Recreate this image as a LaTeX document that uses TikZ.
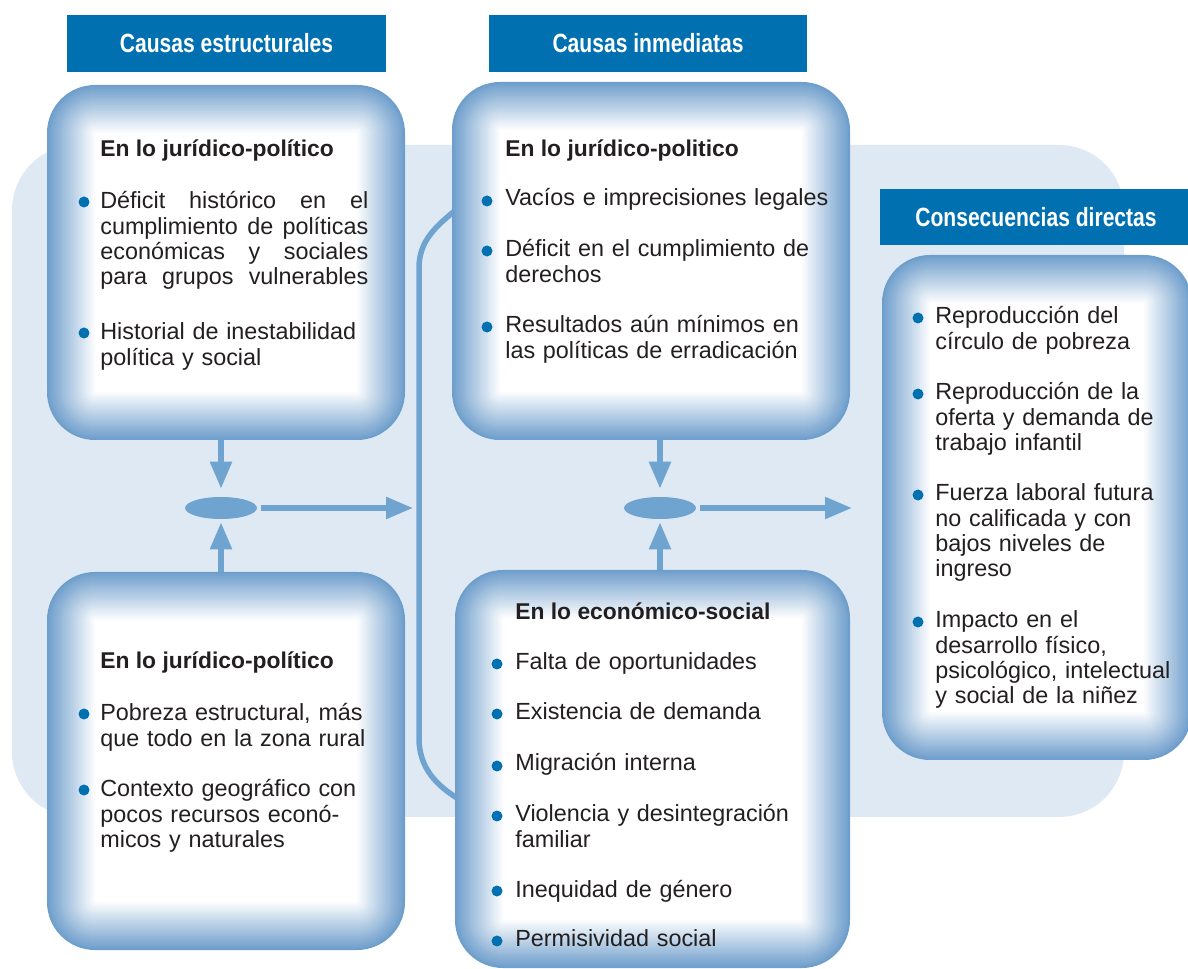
\documentclass[tikz,border=0pt]{standalone}
\usepackage{fontspec}
\setmainfont{Liberation Sans}
\newfontfamily\bannerfont[FakeStretch=0.8]{Liberation Sans}
\usetikzlibrary{shapes.geometric,arrows.meta,calc}

\definecolor{bandblue}{HTML}{0070B0}
\definecolor{paleblue}{HTML}{DFE9F3}
\definecolor{linkblue}{HTML}{70A4D0}
\definecolor{edgeblue}{HTML}{6E9ECB}
\definecolor{inkgray}{HTML}{231F20}

\begin{document}
\begin{tikzpicture}[x=0.02cm,y=-0.02cm,
    banner/.style={fill=bandblue,text=white,inner sep=0,minimum height=1.14cm,
        font=\bannerfont\bfseries\fontsize{15}{18}\selectfont},
    hub/.style={ellipse,fill=linkblue,inner sep=0,minimum width=1.44cm,minimum height=0.44cm},
    link/.style={linkblue,line width=0.11cm},
    tip/.style={-{Triangle[length=0.54cm,width=0.42cm]}},
    head/.style={anchor=base west,inner sep=0,text=inkgray,font=\bfseries\fontsize{13}{14.4}\selectfont},
    entry/.style={anchor=base west,inner sep=0,text width=7.2cm,align=left,text=inkgray,
        font=\fontsize{13.3}{14.4}\selectfont},
    dot/.style={fill=bandblue}]
    \useasboundingbox (0,0) rectangle (1188,969);

    % Pale background panel
    \fill[paleblue,rounded corners=1.3cm] (12,145) rectangle (1124,817);

    % Bracket joining the two immediate causes
    \coordinate (bTop) at (458,208);
    \coordinate (dBot) at (462,801);
    \draw[link] (bTop) to[out=-140,in=90] (419,268) -- (419,738) to[out=-90,in=150] (dBot);

    % Joining points
    \node[hub] (hubL) at (221,508) {};
    \node[hub] (hubR) at (660,508) {};

    \coordinate (aBot) at (221,438);
    \coordinate (cTop) at (221,574);
    \coordinate (bBot) at (660,438);
    \coordinate (dTop) at (660,572);
    \coordinate (midIn) at (413,508);
    \coordinate (consIn) at (852,508);

    \draw[link,tip,shorten >=0.16cm] (aBot) -- (hubL);
    \draw[link,tip,shorten >=0.06cm] (cTop) -- (hubL);
    \draw[link,tip,shorten <=0.08cm] (hubL) -- (midIn);
    \draw[link,tip,shorten >=0.16cm] (bBot) -- (hubR);
    \draw[link,tip,shorten >=0.06cm] (dTop) -- (hubR);
    \draw[link,tip,shorten <=0.08cm] (hubR) -- (consIn);

    % Soft-edged boxes
    \foreach \xa/\ya/\xb/\yb in {47/85/405/440, 452/82/850/440, 47/572/405/950,
                                 455/570/850/968, 882/255/1192/760}{
        \foreach \i in {0,...,24}{
            \pgfmathtruncatemacro{\tone}{100*(24-\i)/24}
            \pgfmathsetmacro{\bend}{max(0.96-0.04*\i,0.02)}
            \fill[edgeblue!\tone!white,rounded corners=\bend cm]
                (\xa+2*\i,\ya+2*\i) rectangle (\xb-2*\i,\yb-2*\i);
        }
    }

    % Headings
    \node[banner,minimum width=6.38cm] (banStruct) at (226.5,43.5) {Causas estructurales};
    \node[banner,minimum width=6.36cm] (banImm) at (648,43.5) {Causas inmediatas};
    \node[banner,minimum width=6.24cm] (banCons) at (1036,217) {Consecuencias directas};

    % Structural causes, upper box
    \node[head] (hdA) at (100,157) {En lo jurídico-político};
    \fill[dot] (84,202) circle (0.11cm);
    \node[entry] (itA1) at (100,209) {\makebox[5.36cm][s]{Déficit\hfill histórico\hfill en\hfill el}\\
        \makebox[5.36cm][s]{cumplimiento\hfill de\hfill políticas}\\
        \makebox[5.36cm][s]{económicas\hfill y\hfill sociales}\\
        \makebox[5.36cm][s]{para\hfill grupos\hfill vulnerables}};
    \fill[dot] (84,333) circle (0.11cm);
    \node[entry] (itA2) at (100,340) {Historial de inestabilidad\\política y social};

    % Structural causes, lower box
    \node[head] (hdC) at (100,669) {En lo jurídico-político};
    \fill[dot] (84,714) circle (0.11cm);
    \node[entry] (itC1) at (100,721) {Pobreza estructural, más\\que todo en la zona rural};
    \fill[dot] (84,790) circle (0.11cm);
    \node[entry] (itC2) at (100,797) {Contexto geográfico con\\pocos recursos econó-\\micos y naturales};

    % Immediate causes, upper box
    \node[head] (hdB) at (505,157) {En lo jurídico-politico};
    \fill[dot] (487,201) circle (0.11cm);
    \node[entry] (itB1) at (505,206) {Vacíos e imprecisiones legales};
    \fill[dot] (487,251) circle (0.11cm);
    \node[entry] (itB2) at (505,257) {Déficit en el cumplimiento de\\derechos};
    \fill[dot] (487,327) circle (0.11cm);
    \node[entry] (itB3) at (505,333) {Resultados aún mínimos en\\las políticas de erradicación};

    % Immediate causes, lower box
    \node[head] (hdD) at (515,620) {En lo económico-social};
    \fill[dot] (497,664) circle (0.11cm);
    \node[entry] (itD1) at (515,670) {Falta de oportunidades};
    \fill[dot] (497,714) circle (0.11cm);
    \node[entry] (itD2) at (515,720) {Existencia de demanda};
    \fill[dot] (497,766) circle (0.11cm);
    \node[entry] (itD3) at (515,771) {Migración interna};
    \fill[dot] (497,816) circle (0.11cm);
    \node[entry] (itD4) at (515,822) {Violencia y desintegración\\familiar};
    \fill[dot] (497,891) circle (0.11cm);
    \node[entry] (itD5) at (515,897) {Inequidad de género};
    \fill[dot] (497,941) circle (0.11cm);
    \node[entry] (itD6) at (515,947) {Permisividad social};

    % Direct consequences
    \fill[dot] (918,318) circle (0.11cm);
    \node[entry] (itE1) at (935,324) {Reproducción del\\círculo de pobreza};
    \fill[dot] (918,394) circle (0.11cm);
    \node[entry] (itE2) at (935,400) {Reproducción de la\\oferta y demanda de\\trabajo infantil};
    \fill[dot] (918,495) circle (0.11cm);
    \node[entry] (itE3) at (935,501) {Fuerza laboral futura\\no calificada y con\\bajos niveles de\\ingreso};
    \fill[dot] (918,622) circle (0.11cm);
    \node[entry] (itE4) at (935,628) {Impacto en el\\desarrollo físico,\\psicológico, intelectual\\y social de la niñez};

\end{tikzpicture}
\end{document}
